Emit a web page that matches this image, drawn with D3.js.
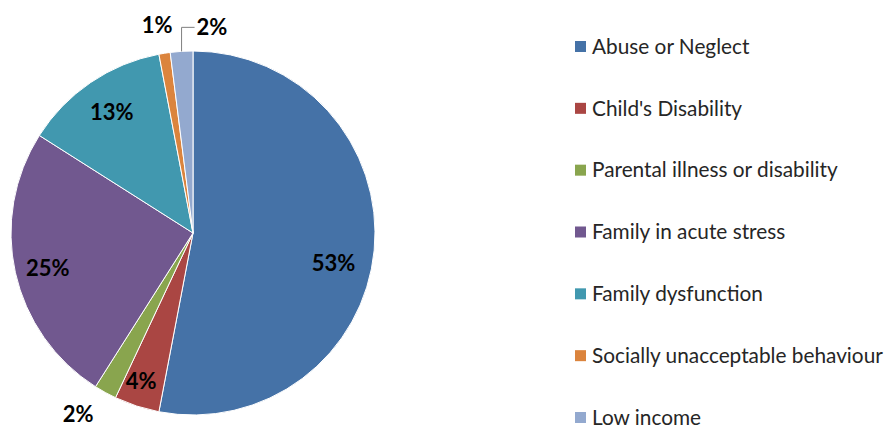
<!DOCTYPE html>
<html>
<head>
<meta charset="utf-8">
<script src="https://cdn.jsdelivr.net/npm/d3@7"></script>
<style>
  html, body { margin: 0; padding: 0; background: #fff; }
  svg { display: block; }
</style>
</head>
<body>
<svg id="chart" width="886" height="429"></svg>
<script>
// Reasons for referral, share of cases (%)
const categories = [
  "Abuse or Neglect",
  "Child's Disability",
  "Parental illness or disability",
  "Family in acute stress",
  "Family dysfunction",
  "Socially unacceptable behaviour",
  "Low income"
];
const values = [53, 4, 2, 25, 13, 1, 2];
const colors = ["#4572A7", "#AA4643", "#89A54E", "#71588F", "#4198AF", "#DB843D", "#93A9CF"];

// Label placement: radius as a fraction of the pie radius, and an angular nudge in degrees
const labelLayout = [
  { rf: 0.79, da: 6.6 },
  { rf: 0.86, da: 1.4 },
  { rf: 1.18, da: 3.5 },
  { rf: 0.82, da: -0.8 },
  { rf: 0.80, da: 0.3 },
  { rf: 1.16, da: -0.8 },
  { rf: 1.17, da: 0, leader: true }
];

const svg = d3.select("#chart");
const cx = 193, cy = 233, R = 182;
const font = "Lato, 'Open Sans', sans-serif";

const data = categories.map((c, i) => ({ name: c, value: values[i], color: colors[i], layout: labelLayout[i] }));

const pie = d3.pie().value(d => d.value).sort(null);
const arcs = pie(data);
const arc = d3.arc().innerRadius(0).outerRadius(R);

const g = svg.append("g").attr("transform", `translate(${cx},${cy})`);

g.selectAll("path.slice")
  .data(arcs)
  .join("path")
  .attr("class", "slice")
  .attr("d", arc)
  .attr("fill", d => d.data.color)
  .attr("stroke", "#fff")
  .attr("stroke-width", 1);

const pt = (angleDeg, r) => {
  const a = angleDeg * Math.PI / 180;
  return [r * Math.sin(a), -r * Math.cos(a)];
};

arcs.forEach(d => {
  const L = d.data.layout;
  const midDeg = (d.startAngle + d.endAngle) / 2 * 180 / Math.PI;
  if (L.leader) {
    // leader line from slice edge up and across to the label
    const [ex, ey] = pt(midDeg, R);
    const topY = ey - 24;
    g.append("path")
      .attr("d", `M${ex},${ey} L${ex},${topY} L${ex + 13},${topY}`)
      .attr("fill", "none")
      .attr("stroke", "#7f7f7f")
      .attr("stroke-width", 1);
    g.append("text")
      .attr("x", ex + 15)
      .attr("y", topY)
      .attr("dy", "0.36em")
      .attr("font-family", font)
      .attr("font-weight", "bold")
      .attr("font-size", 22)
      .attr("fill", "#000")
      .text(d.data.value + "%");
  } else {
    const [lx, ly] = pt(midDeg + L.da, R * L.rf);
    g.append("text")
      .attr("x", lx)
      .attr("y", ly)
      .attr("dy", "0.36em")
      .attr("text-anchor", "middle")
      .attr("font-family", font)
      .attr("font-weight", "bold")
      .attr("font-size", 22)
      .attr("fill", "#000")
      .text(d.data.value + "%");
  }
});

// Legend
const legendY = d3.scalePoint().domain(categories).range([46.5, 417.5]);
const legend = svg.append("g");
const item = legend.selectAll("g.item")
  .data(data)
  .join("g")
  .attr("class", "item")
  .attr("transform", d => `translate(575,${legendY(d.name)})`);

item.append("rect")
  .attr("x", 0)
  .attr("y", -5.5)
  .attr("width", 11)
  .attr("height", 11)
  .attr("fill", d => d.color);

item.append("text")
  .attr("x", 17)
  .attr("y", 0)
  .attr("dy", "0.35em")
  .attr("font-family", font)
  .attr("font-size", 20.8)
  .attr("fill", "#262626")
  .text(d => d.name);
</script>
</body>
</html>
